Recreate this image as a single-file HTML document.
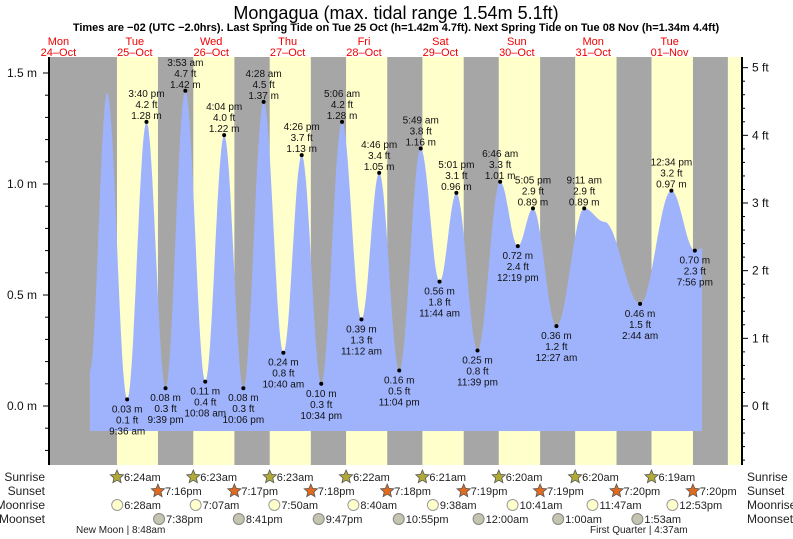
<!DOCTYPE html>
<html><head><meta charset="utf-8"><style>
body{margin:0;background:#fff}
svg{display:block;font-family:"Liberation Sans",sans-serif}
</style></head><body>
<svg id="c" width="793" height="539" viewBox="0 0 793 539">
<text x="396" y="19" text-anchor="middle" font-size="18">Mongagua (max. tidal range 1.54m 5.1ft)</text>
<text x="396" y="31" text-anchor="middle" font-size="11" font-weight="bold">Times are −02 (UTC −2.0hrs). Last Spring Tide on Tue 25 Oct (h=1.42m 4.7ft). Next Spring Tide on Tue 08 Nov (h=1.34m 4.4ft)</text>
<g id="bands"></g><g id="tide"></g><g id="axes"></g><g id="labels"></g><g id="astro"></g>
<text x="76" y="533" font-size="10" fill="#222">New Moon | 8:48am</text>
<text x="590" y="533" font-size="10" fill="#222">First Quarter | 4:37am</text>
</svg>
<script>
// hours from Mon 24 Oct 00:00
const tideHours=[21.9,27.3,33.6,39.67,45.65,51.88,58.13,64.07,70.1,76.47,82.67,88.43,94.57,101.1,107.2,112.77,119.07,125.82,131.73,137.02,143.65,150.77,156.32,161.08,168.45,177.18,183.5,194.73,204.57,211.93,214.2];
const tideHeights=[0.16,1.41,0.03,1.28,0.08,1.42,0.11,1.22,0.08,1.37,0.24,1.13,0.10,1.28,0.39,1.05,0.16,1.16,0.56,0.96,0.25,1.01,0.72,0.89,0.36,0.89,0.83,0.46,0.97,0.70,0.71];
const tideLabeled=[0,0,1,1,1,1,1,1,1,1,1,1,1,1,1,1,1,1,1,1,1,1,1,1,1,1,0,1,1,1,0];
const tideTimes=["","","9:36 am","3:40 pm","9:39 pm","3:53 am","10:08 am","4:04 pm","10:06 pm","4:28 am","10:40 am","4:26 pm","10:34 pm","5:06 am","11:12 am","4:46 pm","11:04 pm","5:49 am","11:44 am","5:01 pm","11:39 pm","6:46 am","12:19 pm","5:05 pm","12:27 am","9:11 am","","2:44 am","12:34 pm","7:56 pm",""];
const dayNames=["Mon","Tue","Wed","Thu","Fri","Sat","Sun","Mon","Tue"];
const dayDates=["24–Oct","25–Oct","26–Oct","27–Oct","28–Oct","29–Oct","30–Oct","31–Oct","01–Nov"];
const sunriseTimes=["6:24am","6:23am","6:23am","6:22am","6:21am","6:20am","6:20am","6:19am"];
const sunriseHours=[6.40,6.38,6.38,6.37,6.35,6.33,6.33,6.32];
const sunsetTimes=["7:16pm","7:17pm","7:18pm","7:18pm","7:19pm","7:19pm","7:20pm","7:20pm"];
const sunsetHours=[19.27,19.28,19.30,19.30,19.32,19.32,19.33,19.33];
const moonriseTimes=["6:28am","7:07am","7:50am","8:40am","9:38am","10:41am","11:47am","12:53pm"];
const moonriseHours=[30.47,55.12,79.83,104.67,129.63,154.68,179.78,204.88];
const moonsetTimes=["7:38pm","8:41pm","9:47pm","10:55pm","12:00am","1:00am","1:53am"];
const moonsetHours=[43.63,68.68,93.78,118.92,144.0,169.0,193.88];
const mTicks=["0.0 m","0.5 m","1.0 m","1.5 m"];
const ftTicks=["0 ft","1 ft","2 ft","3 ft","4 ft","5 ft"];

const NS="http://www.w3.org/2000/svg";
const X0=49,X1=741,YT=57,YB=465;
const xOf=h=>20.2+h*76.4/24;
const yOf=m=>406-m*222;
function mk(tag,attrs,parent,text){const e=document.createElementNS(NS,tag);for(const k in attrs)e.setAttribute(k,attrs[k]);if(text!==undefined)e.textContent=text;parent.appendChild(e);return e;}
const bandsG=document.getElementById('bands');
let bg=mk('rect',{x:X0,y:YT,width:X1-X0,height:YB-YT,fill:'#a6a6a6'},bandsG);


for(let i=0;i<sunriseHours.length;i++){
  const a=xOf(24*(i+1)+sunriseHours[i]),b=xOf(24*(i+1)+sunsetHours[i]);
  const e=mk('rect',{x:a,y:YT,width:b-a,height:YB-YT,fill:'#ffffcc'},bandsG);
  
  
}
{const a=xOf(24*9+6.3);const e=mk('rect',{x:a,y:YT,width:X1-a,height:YB-YT,fill:'#ffffcc'},bandsG);

}
const topG=document.getElementById('labels');
for(let i=0;i<dayNames.length;i++){
  const cx=xOf(24*i+12);
  const t1=mk('text',{x:cx,y:45,'text-anchor':'middle','font-size':11,fill:'#f00000'},topG,dayNames[i]);
  
  
  const t2=mk('text',{x:cx,y:56,'text-anchor':'middle','font-size':11,fill:'#f00000'},topG,dayDates[i]);
  
  
}
let pts=[];
for(let i=0;i<tideHours.length-1;i++){
  const h0=tideHours[i],h1=tideHours[i+1],v0=tideHeights[i],v1=tideHeights[i+1];
  for(let s=0;s<=20;s++){const f=s/20;const v=v0+(v1-v0)*(1-Math.cos(Math.PI*f))/2;pts.push([xOf(h0+(h1-h0)*f),yOf(v)]);}
}
const yBase=431;
const pathD='M'+pts[0][0].toFixed(1)+','+yBase+' '+pts.map(p=>'L'+p[0].toFixed(1)+','+p[1].toFixed(1)).join(' ')+' L'+pts[pts.length-1][0].toFixed(1)+','+yBase+' Z';
const tideG=document.getElementById('tide');
const path=mk('path',{d:pathD,fill:'#9fb3fd'},tideG);


for(let i=0;i<tideHours.length;i++){
  if(!tideLabeled[i])continue;
  const x=xOf(tideHours[i]),y=yOf(tideHeights[i]);
  const isHigh=(i>0&&tideHeights[i]>tideHeights[i-1]);
  const dot=mk('circle',{cx:x,cy:y,r:2,fill:'#000'},tideG);
  
  
  const m=tideHeights[i].toFixed(2)+' m',ft=(tideHeights[i]/0.3048).toFixed(1)+' ft';
  const lines=isHigh?[tideTimes[i],ft,m]:[m,ft,tideTimes[i]];
  const ys=isHigh?[y-25,y-14,y-3]:[y+13,y+24,y+35];
  for(let k=0;k<3;k++){
    const t=mk('text',{x:x,y:ys[k],'text-anchor':'middle','font-size':10,fill:'#111'},tideG,lines[k]);
    
    
  }
}
const ax=document.getElementById('axes');
let ln=mk('line',{x1:X0,y1:YT,x2:X0,y2:YB,stroke:'#000','stroke-width':2},ax);


ln=mk('line',{x1:X1+1,y1:YT,x2:X1+1,y2:YB,stroke:'#000','stroke-width':2},ax);


for(let k=-2;k<=17;k++){const v=k/10;const y=yOf(v);if(y<YT||y>YB)continue;const maj=(k%5===0);
  mk('line',{x1:X0-(maj?6:4),y1:y,x2:X0,y2:y,stroke:'#000'},ax);}
mTicks.forEach((s,i)=>{const t=mk('text',{x:37,y:yOf(i*0.5)+4,'text-anchor':'end','font-size':12,fill:'#111'},ax,s);
  
  });
for(let k=-5;k<=28;k++){const f=k/5;const y=yOf(f*0.3048);if(y<YT||y>YB)continue;const maj=(k%5===0);
  mk('line',{x1:X1+1,y1:y,x2:X1+(maj?7:4),y2:y,stroke:'#000'},ax);}
ftTicks.forEach((s,i)=>{const t=mk('text',{x:752,y:yOf(i*0.3048)+4,'font-size':12,fill:'#111'},ax,s);
  
  });
const astroG=document.getElementById('astro');
const rows=[["Sunrise",477],["Sunset",491],["Moonrise",505],["Moonset",519]];
rows.forEach(rw=>{
  let t=mk('text',{x:45,y:rw[1]+4,'text-anchor':'end','font-size':12,fill:'#222'},astroG,rw[0]);
  
  
  t=mk('text',{x:747,y:rw[1]+4,'font-size':12,fill:'#222'},astroG,rw[0]);
  
  
});
function star(cx,cy,fill){let p=[];for(let k=0;k<10;k++){const rr=k%2?3.2:7,a=-Math.PI/2+k*Math.PI/5;p.push((cx+rr*Math.cos(a)).toFixed(1)+','+(cy+rr*Math.sin(a)).toFixed(1));}
  return mk('polygon',{points:p.join(' '),fill:fill,stroke:'#555','stroke-width':0.8},astroG);}
function lab(x,y,s,name){const t=mk('text',{x:x,y:y+4,'font-size':11,fill:'#222'},astroG,s);}
for(let i=0;i<sunriseHours.length;i++){
  const x=xOf(24*(i+1)+sunriseHours[i]);const s=star(x,477,'#b0ab38');
  
  
  lab(x+7,477,sunriseTimes[i],'sunrise-time');
  const x2=xOf(24*(i+1)+sunsetHours[i]);const s2=star(x2,491,'#e06a20');
  
  
  lab(x2+7,491,sunsetTimes[i],'sunset-time');
}
for(let i=0;i<moonriseHours.length;i++){
  const x=xOf(moonriseHours[i]);const c=mk('circle',{cx:x,cy:505,r:5.5,fill:'#ffffcc',stroke:'#999'},astroG);
  
  
  lab(x+7,505,moonriseTimes[i],'moonrise-time');
}
for(let i=0;i<moonsetHours.length;i++){
  const x=xOf(moonsetHours[i]);const c=mk('circle',{cx:x,cy:519,r:5.5,fill:'#c4c4b0',stroke:'#888'},astroG);
  
  
  lab(x+7,519,moonsetTimes[i],'moonset-time');
}
</script>
</body></html>
